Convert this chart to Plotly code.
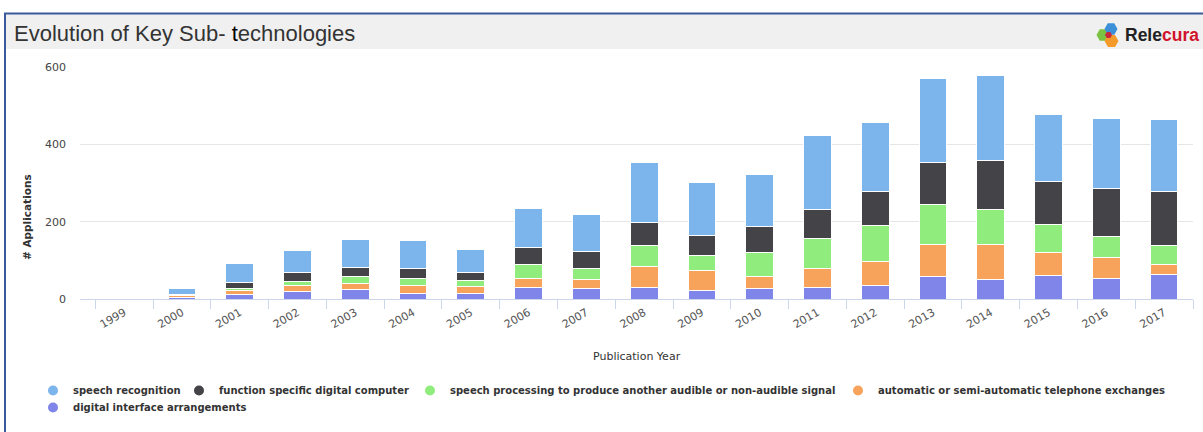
import math
import plotly.graph_objects as go

# ---- data ----
years = [str(y) for y in range(1999, 2018)]
speech_recognition = [0, 14, 48, 57, 73, 72, 60, 100, 94, 155, 136, 133, 191, 178, 217, 220, 175, 182, 185]
function_specific = [0, 0, 15, 22, 23, 28, 19, 46, 44, 58, 53, 67, 76, 88, 110, 125, 110, 125, 139]
speech_processing = [0, 3, 7, 10, 20, 17, 17, 35, 29, 56, 37, 63, 76, 92, 102, 90, 74, 54, 51]
telephone_exchanges = [0, 5, 9, 16, 15, 20, 17, 24, 24, 52, 53, 31, 50, 62, 84, 91, 58, 53, 24]
digital_interface = [0, 4, 12, 20, 24, 15, 15, 29, 27, 31, 22, 27, 30, 36, 58, 51, 61, 54, 64]

series_names = [
    "speech recognition",
    "function specific digital computer",
    "speech processing to produce another audible or non-audible signal",
    "automatic or semi-automatic telephone exchanges",
    "digital interface arrangements",
]
series_values = [speech_recognition, function_specific, speech_processing,
                 telephone_exchanges, digital_interface]
series_colors = ["#7cb5ec", "#434348", "#90ed7d", "#f7a35c", "#8085e9"]

title_text = "Evolution of Key Sub- <span style='color:#000'>t</span>echnologies"
y_title = "# Applications"
x_title = "Publication Year"
y_ticks = [0, 200, 400, 600]

# ---- geometry (page pixels) ----
W, H = 1203, 432
ML, MR, MT, MB = 80, 10, 67, 133
PW, PH = W - ML - MR, H - MT - MB

# legend entry placement (left x, top y) in page pixels, one legend box per entry
legend_boxes = [(33, 376), (179, 376), (410, 376), (838, 376), (33, 393)]


def px(x):
    return (x - ML) / PW


def py(y):
    return (H - MB - y) / PH


fig = go.Figure()

# stacked bars: bottom segment first
for i in reversed(range(len(series_names))):
    fig.add_trace(go.Bar(
        x=years, y=series_values[i], name=series_names[i],
        marker=dict(color=series_colors[i], line=dict(color="#ffffff", width=1)),
        showlegend=False, legendgroup=series_names[i],
    ))

legend_ids = ["legend"] + [f"legend{k}" for k in range(2, len(series_names) + 1)]

# legend entries with circle symbols
for i, name in enumerate(series_names):
    fig.add_trace(go.Scatter(
        x=[None], y=[None], mode="markers", name=name, legendgroup=name,
        legend=legend_ids[i],
        marker=dict(color=series_colors[i], size=10, symbol="circle"),
        hoverinfo="skip",
    ))

shapes = []
# title band
shapes.append(dict(type="rect", xref="paper", yref="paper", layer="below",
                   x0=px(6), x1=px(W + 2), y0=py(49), y1=py(14),
                   fillcolor="#f0f0f0", line=dict(width=0)))
# frame border
shapes.append(dict(type="line", xref="paper", yref="paper",
                   x0=px(5), x1=px(5), y0=py(13), y1=py(H + 2),
                   line=dict(color="#3a5a9c", width=2)))
shapes.append(dict(type="line", xref="paper", yref="paper",
                   x0=px(4), x1=px(W + 2), y0=py(13.5), y1=py(13.5),
                   line=dict(color="#3a5a9c", width=2)))


def hexagon(cx, cy, r, color):
    pts = []
    for k in range(6):
        a = math.radians(60 * k)
        pts.append((px(cx + r * math.cos(a)), py(cy + r * math.sin(a))))
    path = "M " + " L ".join(f"{x:.5f},{y:.5f}" for x, y in pts) + " Z"
    return dict(type="path", xref="paper", yref="paper", path=path,
                fillcolor=color, line=dict(width=0))


shapes.append(hexagon(1103, 35, 6.5, "#7cc242"))
shapes.append(hexagon(1111, 29, 6.5, "#3d8fd8"))
shapes.append(hexagon(1111.5, 41, 7, "#f39a2b"))
shapes.append(hexagon(1108.5, 35, 3.5, "#c8283a"))

annotations = [
    dict(text=title_text, xref="paper", yref="paper", x=px(12), y=py(33),
         xanchor="left", yanchor="middle", showarrow=False,
         font=dict(family="Liberation Sans, Arial", size=22, color="#333333")),
    dict(text="<b>Rele<span style='color:#d0142c'>cura</span></b>", xref="paper", yref="paper",
         x=px(1123), y=py(35), xanchor="left", yanchor="middle", showarrow=False,
         font=dict(family="Liberation Sans, Arial", size=17.5, color="#222222")),
    dict(text="<b>" + y_title + "</b>", xref="paper", yref="paper", x=px(27), y=py(217),
         xanchor="center", yanchor="middle", textangle=-90, showarrow=False,
         font=dict(family="DejaVu Sans", size=10.5, color="#333333")),
    dict(text=x_title, xref="paper", yref="paper", x=px(637), y=py(356),
         xanchor="center", yanchor="middle", showarrow=False,
         font=dict(family="DejaVu Sans", size=11, color="#333333")),
]

legend_font = dict(family="DejaVu Sans", size=10, color="#333333", weight="bold")

layout_legends = {}
for lid, (lx, ly) in zip(legend_ids, legend_boxes):
    layout_legends[lid] = dict(
        orientation="h", xref="container", yref="container",
        x=lx / W, y=1 - ly / H, xanchor="left", yanchor="top",
        font=legend_font, itemclick=False, itemdoubleclick=False,
        bgcolor="rgba(0,0,0,0)", borderwidth=0,
    )

fig.update_layout(
    width=W, height=H,
    margin=dict(l=ML, r=MR, t=MT, b=MB, pad=0),
    paper_bgcolor="#ffffff", plot_bgcolor="#ffffff",
    barmode="stack", bargap=0.52,
    shapes=shapes, annotations=annotations,
    showlegend=True,
    font=dict(family="DejaVu Sans"),
    xaxis=dict(type="category", categoryorder="array", categoryarray=years,
               range=[-0.765, len(years) - 0.5],
               showline=True, linecolor="#ccd6eb", linewidth=1,
               ticks="outside", ticklen=9, tickcolor="#ccd6eb", tickson="boundaries",
               tickangle=-30, ticklabelstandoff=2, showgrid=False, zeroline=False,
               tickfont=dict(family="DejaVu Sans", size=11, color="#555555")),
    yaxis=dict(range=[0, 600], tickvals=y_ticks, showgrid=True,
               gridcolor="#e6e6e6", gridwidth=1, zeroline=False, showline=False,
               ticks="", ticklabelstandoff=13,
               tickfont=dict(family="DejaVu Sans", size=11, color="#444444")),
    **layout_legends,
)

fig.write_html("out.html", config={"displayModeBar": False},
               post_script="document.body.style.margin='0';")
